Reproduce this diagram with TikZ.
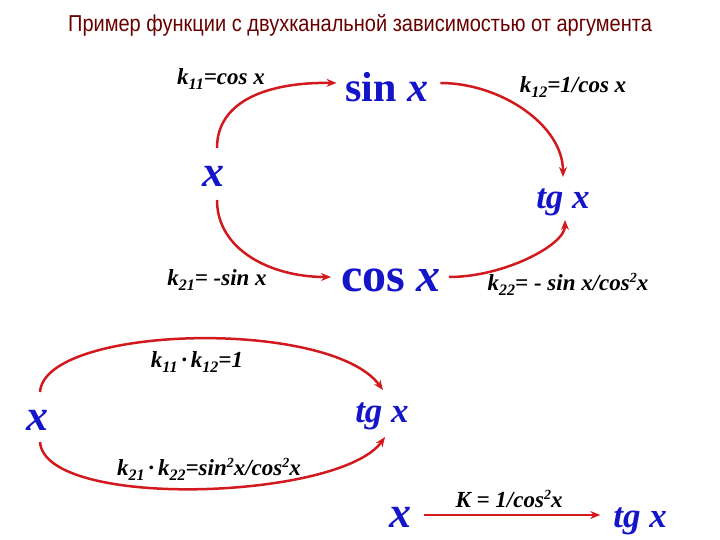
\documentclass[tikz,border=0pt]{standalone}
\usepackage{fontspec}
\setmainfont{Liberation Serif}
\newfontfamily\titlefont{Liberation Sans}
\usetikzlibrary{arrows.meta}
\definecolor{fblue}{RGB}{20,20,200}
\definecolor{fred}{RGB}{210,25,30}
\definecolor{ftitle}{RGB}{105,0,0}
\newcommand\lo[1]{\raisebox{-5pt}{\fontsize{16}{16}\selectfont #1}}
\newcommand\hi[1]{\raisebox{8pt}{\fontsize{14}{14}\selectfont #1}}
\tikzset{
  big/.style={text=fblue, font=\bfseries\fontsize{44}{50}\selectfont, inner sep=0pt, outer sep=0pt, anchor=base},
  mid/.style={text=fblue, font=\bfseries\itshape\fontsize{35}{40}\selectfont, inner sep=0pt, outer sep=0pt, anchor=base},
  lab/.style={font=\bfseries\itshape\fontsize{23}{26}\selectfont, inner sep=0pt, outer sep=0pt, anchor=base},
  arr/.style={draw=fred, line width=2.5pt, -{Stealth[length=10pt,width=8pt]}},
}
\begin{document}
\begin{tikzpicture}[x=1pt,y=-1pt]
\useasboundingbox (0,0) rectangle (720,540);
\node[text=ftitle, font=\titlefont\fontsize{23}{26}\selectfont, inner sep=0pt, anchor=base] (title) at (360,32) {\scalebox{0.87}[1]{Пример функции с двухканальной зависимостью от аргумента}};
% top block
\node[lab] (k11) at (221,85) {k\lo{11}=cos x};
\node[big, font=\bfseries\fontsize{42}{50}\selectfont] (sinx) at (387,102) {sin \textit{x}};
\node[lab] (k12) at (573,93) {k\lo{12}=1/cos x};
\node[big] (x1) at (213,187) {\textit{x}};
\node[mid] (tg1) at (563,208) {tg x};
\node[lab] (k21) at (217,285) {k\lo{21}= -sin x};
\node[big, font=\bfseries\fontsize{48}{54}\selectfont] (cosx) at (391,291) {cos \textit{x}};
\node[lab] (k22) at (568,290) {k\lo{22}= - sin x/cos\hi{2}x};
\draw[arr] ([shift={(4,-39)}]x1.base) .. controls +(0,-48) and +(-67,-1) .. ([shift={(-9,-19)}]sinx.base west);
\draw[arr] ([shift={(12,-19)}]sinx.base east) .. controls +(60,0) and +(0,-52) .. ([shift={(0,-31)}]tg1.base);
\draw[arr] ([shift={(4,13)}]x1.base) .. controls +(0,50) and +(-60,0) .. ([shift={(-10,-14)}]cosx.base west);
\draw[arr] ([shift={(8,-14)}]cosx.base east) .. controls +(55,0) and +(0,25) .. ([shift={(2,12)}]tg1.base);
% middle block
\node[big] (x2) at (37,430) {\textit{x}};
\node[mid] (tg2) at (382,422) {tg x};
\node[lab] (k1112) at (197,367) {k\lo{11}\,·\,k\lo{12}=1};
\node[lab] (k2122) at (209,475) {k\lo{21}\,·\,k\lo{22}=sin\hi{2}x/cos\hi{2}x};
\draw[arr] ([shift={(3,-38)}]x2.base) .. controls (45,325) and (330,318) .. ([shift={(1,-32)}]tg2.base);
\draw[arr] ([shift={(3,12)}]x2.base) .. controls (45,510) and (340,500) .. ([shift={(3,15)}]tg2.base);
% bottom line
\node[big] (x3) at (400,527) {\textit{x}};
\node[mid] (tg3) at (640,527) {tg x};
\node[lab] (kk) at (509,507) {K = 1/cos\hi{2}x};
\draw[arr] ([shift={(13,-12)}]x3.base east) -- ([shift={(-13,-12)}]tg3.base west);
\end{tikzpicture}
\end{document}
